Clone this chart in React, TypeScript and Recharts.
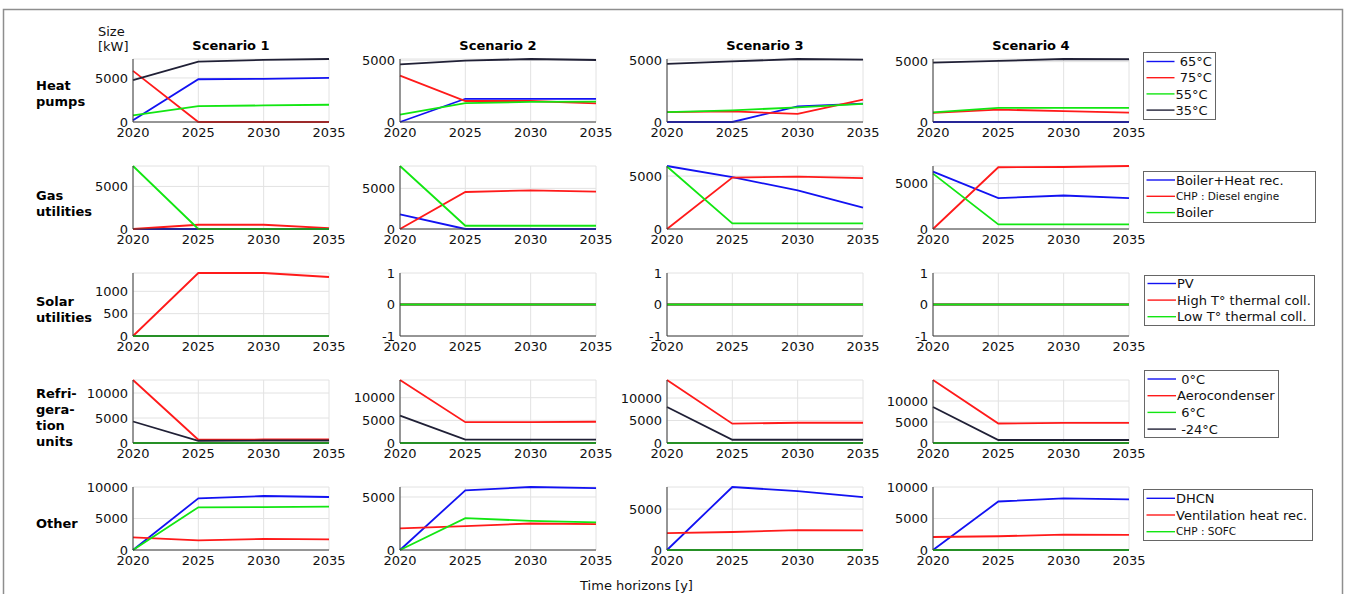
import React from 'react';
import { LineChart, Line, XAxis, YAxis, CartesianGrid } from 'recharts';

// ---------- data (installed size in kW, one inner array per scenario) ----------
const years = [2020, 2025, 2030, 2035];
const scenarioTitles = ['Scenario 1', 'Scenario 2', 'Scenario 3', 'Scenario 4'];

// Heat pumps
const hp65 = [[200, 4850, 4900, 5000], [0, 1880, 1880, 1880], [0, 0, 1270, 1490], [0, 0, 0, 0]];
const hp75 = [[5800, 0, 0, 0], [3750, 1700, 1700, 1500], [800, 860, 650, 1820], [750, 1030, 900, 780]];
const hp55 = [[750, 1800, 1880, 1960], [600, 1520, 1630, 1650], [800, 940, 1190, 1470], [800, 1170, 1170, 1170]];
const hp35 = [[4750, 6850, 7050, 7150], [4670, 4970, 5100, 5020], [4700, 4900, 5100, 5050], [4920, 5060, 5220, 5200]];
const heatTicks = [[0, 5000], [0, 5000], [0, 5000], [0, 5000]];

// Gas utilities
const gasBoilerHeatRec = [[0, 0, 0, 0], [1800, 0, 0, 0], [5950, 4900, 3640, 2020], [6320, 3400, 3690, 3400]];
const gasChpDiesel = [[0, 500, 500, 100], [0, 4550, 4750, 4600], [0, 4850, 4940, 4810], [0, 6800, 6830, 6940]];
const gasBoiler = [[7400, 0, 0, 0], [7750, 400, 400, 400], [5900, 530, 530, 530], [6100, 500, 500, 500]];
const gasTicks = [[0, 5000], [0, 5000], [0, 5000], [0, 5000]];

// Solar utilities
const solarPV = [[0, 0, 0, 0], [0, 0, 0, 0], [0, 0, 0, 0], [0, 0, 0, 0]];
const solarHighT = [[0, 1410, 1410, 1320], [0, 0, 0, 0], [0, 0, 0, 0], [0, 0, 0, 0]];
const solarLowT = [[0, 0, 0, 0], [0, 0, 0, 0], [0, 0, 0, 0], [0, 0, 0, 0]];
const solarTicks = [[0, 500, 1000], [-1, 0, 1], [-1, 0, 1], [-1, 0, 1]];

// Refrigeration units
const ref0C = [[0, 0, 0, 0], [0, 0, 0, 0], [0, 0, 0, 0], [0, 0, 0, 0]];
const refAerocondenser = [[12600, 650, 700, 720], [13900, 4600, 4600, 4690], [14000, 4300, 4500, 4500], [15000, 4640, 4800, 4800]];
const ref6C = [[0, 0, 0, 0], [0, 0, 0, 0], [0, 0, 0, 0], [0, 0, 0, 0]];
const refMinus24C = [[4300, 450, 500, 500], [6050, 730, 730, 730], [8000, 720, 720, 720], [8560, 720, 720, 720]];
const refTicks = [[0, 5000, 10000], [0, 5000, 10000], [0, 5000, 10000], [0, 5000, 10000]];

// Other
const otherDHCN = [[0, 8200, 8570, 8410], [0, 5630, 5940, 5840], [0, 7700, 7200, 6450], [0, 7700, 8200, 8050]];
const otherVentilation = [[2010, 1540, 1750, 1700], [2030, 2250, 2500, 2440], [2070, 2200, 2440, 2400], [2060, 2180, 2440, 2400]];
const otherSOFC = [[0, 6780, 6800, 6880], [0, 3000, 2750, 2600], [0, 0, 0, 0], [0, 0, 0, 0]];
const otherTicks = [[0, 5000, 10000], [0, 5000], [0, 5000], [0, 5000, 10000]];

// ---------- styling ----------
const BLUE = '#1212f2';
const RED = '#ff1a1a';
const GREEN = '#12e612';
const BLACK = '#202036';
const FONT = "'DejaVu Sans', sans-serif";

type Limit = number | 'dataMax' | 'dataMin';
type Series = { label: string; color: string; values: number[][]; small?: boolean };
type Row = {
  title: string[];
  series: Series[];
  yMin: Limit[];
  yMax: Limit[];
  ticks: number[][];
};

const rows: Row[] = [
  {
    title: ['Heat', 'pumps'],
    series: [
      { label: ' 65°C', color: BLUE, values: hp65 },
      { label: ' 75°C', color: RED, values: hp75 },
      { label: '55°C', color: GREEN, values: hp55 },
      { label: '35°C', color: BLACK, values: hp35 },
    ],
    yMin: [0, 0, 0, 0],
    yMax: ['dataMax', 'dataMax', 'dataMax', 'dataMax'],
    ticks: heatTicks,
  },
  {
    title: ['Gas', 'utilities'],
    series: [
      { label: 'Boiler+Heat rec.', color: BLUE, values: gasBoilerHeatRec },
      { label: 'CHP : Diesel engine', color: RED, values: gasChpDiesel, small: true },
      { label: 'Boiler', color: GREEN, values: gasBoiler },
    ],
    yMin: [0, 0, 0, 0],
    yMax: ['dataMax', 'dataMax', 'dataMax', 'dataMax'],
    ticks: gasTicks,
  },
  {
    title: ['Solar', 'utilities'],
    series: [
      { label: 'PV', color: BLUE, values: solarPV },
      { label: 'High T° thermal coll.', color: RED, values: solarHighT },
      { label: 'Low T° thermal coll.', color: GREEN, values: solarLowT },
    ],
    yMin: [0, -1, -1, -1],
    yMax: ['dataMax', 1, 1, 1],
    ticks: solarTicks,
  },
  {
    title: ['Refri-', 'gera-', 'tion', 'units'],
    series: [
      { label: ' 0°C', color: BLUE, values: ref0C },
      { label: 'Aerocondenser', color: RED, values: refAerocondenser },
      { label: ' 6°C', color: GREEN, values: ref6C },
      { label: ' -24°C', color: BLACK, values: refMinus24C },
    ],
    yMin: [0, 0, 0, 0],
    yMax: ['dataMax', 'dataMax', 'dataMax', 'dataMax'],
    ticks: refTicks,
  },
  {
    title: ['Other'],
    series: [
      { label: 'DHCN', color: BLUE, values: otherDHCN },
      { label: 'Ventilation heat rec.', color: RED, values: otherVentilation },
      { label: 'CHP : SOFC', color: GREEN, values: otherSOFC, small: true },
    ],
    yMin: [0, 0, 0, 0],
    yMax: [10000, 'dataMax', 'dataMax', 10000],
    ticks: otherTicks,
  },
];

// ---------- layout ----------
const PLOT_LEFT = [133, 400, 667, 933];
const PLOT_W = 196;
const PLOT_H = 63;
const ROW_TOP = [59, 166, 273, 380, 487];
const Y_AXIS_W = 60;
const X_AXIS_H = 26;
const M_TOP = 12;
const M_RIGHT = 24;

const ROW_TITLE_BASE = [90, 200, 305.5, 397.5, 527.5];
const ROW_TITLE_STEP = 16;

const LEGENDS = [
  { x: 1143, y: 52, w: 72, h: 67, first: 61.5, step: 16.2, tx: 1175.5 },
  { x: 1143, y: 171, w: 172, h: 51, first: 180, step: 16.3, tx: 1176 },
  { x: 1144, y: 275, w: 170, h: 50, first: 283.5, step: 16.6, tx: 1177 },
  { x: 1144, y: 370, w: 134, h: 67, first: 379, step: 16.7, tx: 1177 },
  { x: 1143, y: 489, w: 169, h: 51, first: 498.3, step: 16.7, tx: 1176 },
];

const tickStyle = { fontSize: 13, fill: '#111', fontFamily: FONT };

function Panel({ row, r, s }: { row: Row; r: number; s: number }) {
  const data = years.map((year, i) => {
    const d: Record<string, number> = { year };
    row.series.forEach((ser, k) => {
      d['v' + k] = ser.values[s][i];
    });
    return d;
  });
  return (
    <div style={{ position: 'absolute', left: PLOT_LEFT[s] - Y_AXIS_W, top: ROW_TOP[r] - M_TOP }}>
      <LineChart
        width={Y_AXIS_W + PLOT_W + M_RIGHT}
        height={M_TOP + PLOT_H + X_AXIS_H}
        data={data}
        margin={{ top: M_TOP, right: M_RIGHT, bottom: 0, left: 0 }}
      >
        <CartesianGrid stroke="#e2e2e2" strokeWidth={1} />
        <XAxis
          dataKey="year"
          type="number"
          domain={[2020, 2035]}
          ticks={years}
          interval={0}
          height={X_AXIS_H}
          tickLine={false}
          tickSize={0}
          tickMargin={6}
          axisLine={{ stroke: '#3a3a3a' }}
          tick={tickStyle}
        />
        <YAxis
          type="number"
          domain={[row.yMin[s], row.yMax[s]]}
          ticks={row.ticks[s]}
          interval={0}
          width={Y_AXIS_W}
          tickLine={false}
          tickSize={0}
          tickMargin={5}
          axisLine={{ stroke: '#3a3a3a' }}
          tick={tickStyle}
        />
        {row.series.map((ser, k) => (
          <Line
            key={ser.label}
            type="linear"
            dataKey={'v' + k}
            stroke={ser.color}
            strokeWidth={1.8}
            dot={false}
            activeDot={false}
            isAnimationActive={false}
          />
        ))}
      </LineChart>
    </div>
  );
}

export default function App() {
  return (
    <div
      style={{
        position: 'absolute',
        left: 0,
        top: 0,
        width: 1351,
        height: 594,
        background: '#fff',
        overflow: 'hidden',
        fontFamily: FONT,
      }}
    >
      <svg width={1351} height={594} style={{ position: 'absolute', left: 0, top: 0 }} fontFamily={FONT}>
        <rect x={3.5} y={9.5} width={1339} height={620} fill="none" stroke="#8e8e8e" strokeWidth={1.5} />
        <text x={98} y={36} fontSize={13} fill="#111">Size</text>
        <text x={98} y={50.5} fontSize={13} fill="#111">[kW]</text>
        {scenarioTitles.map((t, s) => (
          <text key={t} x={PLOT_LEFT[s] + PLOT_W / 2} y={50} fontSize={13} fontWeight="bold" textAnchor="middle" fill="#000">
            {t}
          </text>
        ))}
        {rows.map((row, r) =>
          row.title.map((line, j) => (
            <text key={r + '-' + j} x={36} y={ROW_TITLE_BASE[r] + j * ROW_TITLE_STEP} fontSize={13} fontWeight="bold" fill="#000">
              {line}
            </text>
          ))
        )}
        <text x={636.5} y={590} fontSize={13} textAnchor="middle" fill="#111">Time horizons [y]</text>
        {rows.map((row, r) => {
          const L = LEGENDS[r];
          return (
            <g key={'leg' + r}>
              <rect x={L.x + 0.5} y={L.y + 0.5} width={L.w} height={L.h} fill="#fff" stroke="#666" strokeWidth={1} />
              {row.series.map((ser, k) => {
                const cy = L.first + k * L.step;
                return (
                  <g key={ser.label}>
                    <line x1={L.x + 3.5} x2={L.tx - 1} y1={cy} y2={cy} stroke={ser.color} strokeWidth={1.4} />
                    <text
                      x={L.tx}
                      y={cy}
                      dy="0.36em"
                      fontSize={ser.small ? 10.5 : 13}
                      fill="#111"
                      xmlSpace="preserve"
                    >
                      {ser.label}
                    </text>
                  </g>
                );
              })}
            </g>
          );
        })}
      </svg>
      {rows.map((row, r) => scenarioTitles.map((_, s) => <Panel key={r + '-' + s} row={row} r={r} s={s} />))}
    </div>
  );
}
